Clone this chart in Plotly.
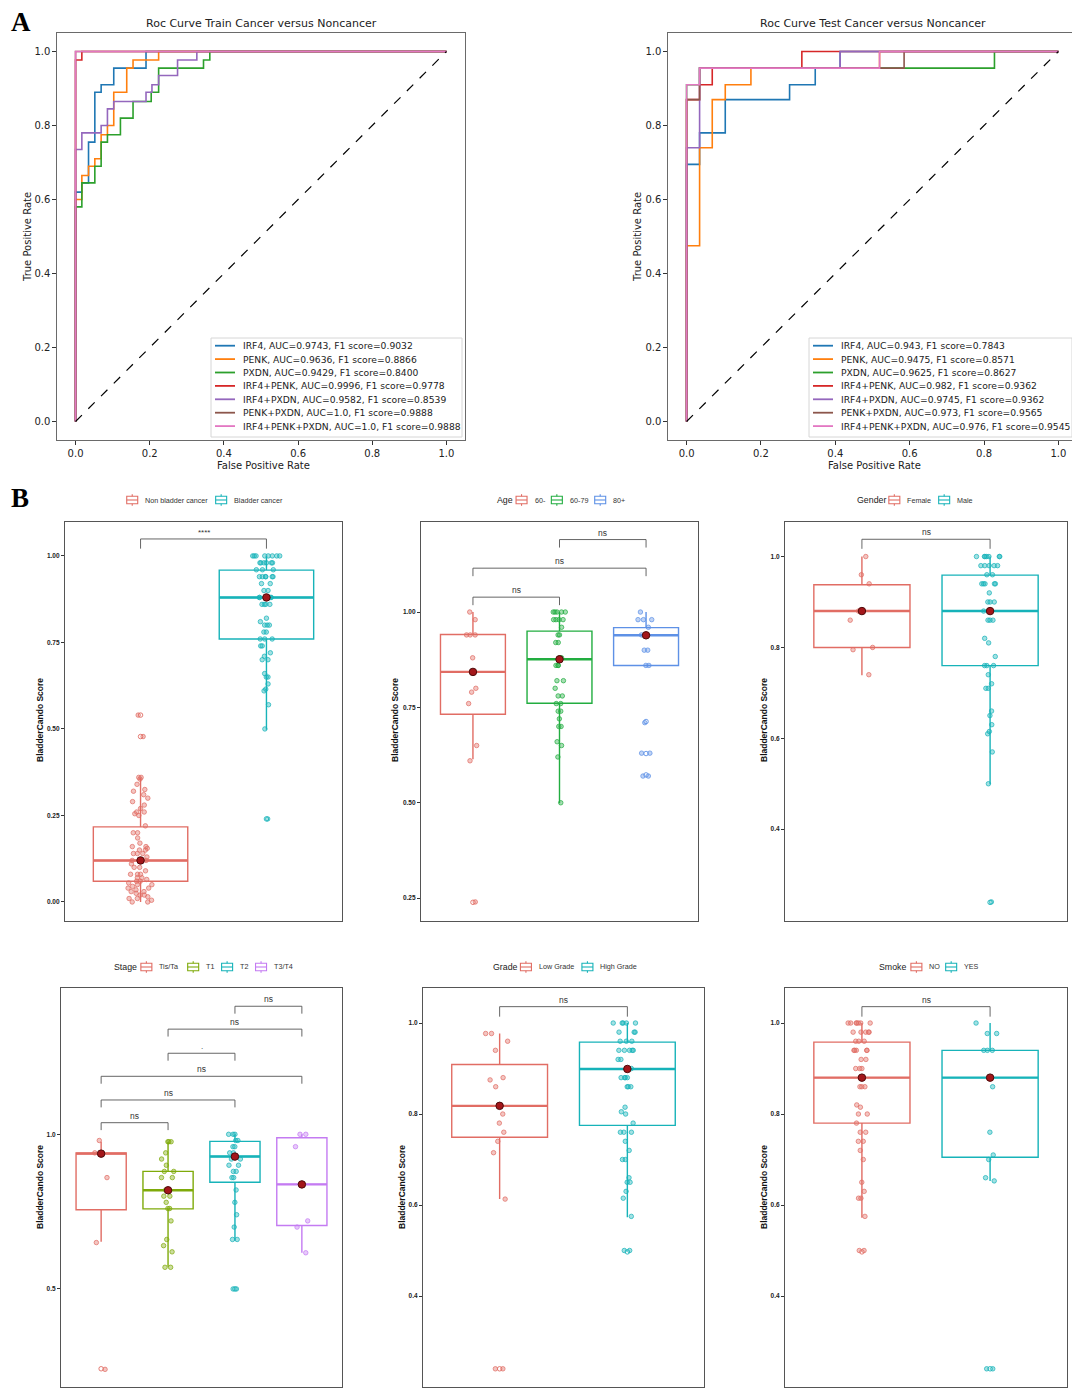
import plotly.graph_objects as go

# page is drawn with an 8 px body margin, so work in reference pixels and shift
OFF = 8
W, H = 1080 - OFF, 1390 - OFF

# ---------------- Panel A: ROC curves (step points) ----------------
roc_names = ["IRF4", "PENK", "PXDN", "IRF4+PENK", "IRF4+PXDN", "PENK+PXDN", "IRF4+PENK+PXDN"]
roc_colors = ["#1f77b4", "#ff7f0e", "#2ca02c", "#d62728", "#9467bd", "#8c564b", "#e377c2"]

train_auc = ["0.9743", "0.9636", "0.9429", "0.9996", "0.9582", "1.0", "1.0"]
train_f1 = ["0.9032", "0.8866", "0.8400", "0.9778", "0.8539", "0.9888", "0.9888"]
train_fpr = [
    [0, 0, 0.017, 0.035, 0.052, 0.069, 0.103, 0.19, 1.0],
    [0, 0, 0.017, 0.035, 0.052, 0.069, 0.086, 0.103, 0.138, 0.155, 0.224, 1.0],
    [0, 0, 0.017, 0.052, 0.069, 0.086, 0.121, 0.155, 0.204, 0.224, 0.345, 0.362, 1.0],
    [0, 0, 0.017, 1.0],
    [0, 0, 0.017, 0.069, 0.086, 0.103, 0.19, 0.206, 0.224, 0.275, 0.327, 1.0],
    [0, 0, 1.0],
    [0, 0, 1.0],
]
train_tpr = [
    [0, 0.62, 0.645, 0.755, 0.89, 0.91, 0.955, 1.0, 1.0],
    [0, 0.6, 0.665, 0.69, 0.71, 0.775, 0.80, 0.89, 0.955, 0.977, 1.0, 1.0],
    [0, 0.58, 0.645, 0.69, 0.755, 0.775, 0.82, 0.865, 0.89, 0.955, 0.977, 1.0, 1.0],
    [0, 0.977, 1.0, 1.0],
    [0, 0.735, 0.78, 0.80, 0.845, 0.865, 0.89, 0.91, 0.935, 0.977, 1.0, 1.0],
    [0, 1.0, 1.0],
    [0, 1.0, 1.0],
]

test_auc = ["0.943", "0.9475", "0.9625", "0.982", "0.9745", "0.973", "0.976"]
test_f1 = ["0.7843", "0.8571", "0.8627", "0.9362", "0.9362", "0.9565", "0.9545"]
test_fpr = [
    [0, 0, 0.035, 0.104, 0.277, 0.346, 0.413, 1.0],
    [0, 0, 0.035, 0.069, 0.104, 0.173, 0.519, 1.0],
    [0, 0, 0.035, 0.828, 1.0],
    [0, 0, 0.035, 0.069, 0.31, 1.0],
    [0, 0, 0.035, 0.413, 1.0],
    [0, 0, 0.035, 0.585, 1.0],
    [0, 0, 0.035, 0.519, 1.0],
]
test_tpr = [
    [0, 0.695, 0.78, 0.87, 0.91, 0.955, 1.0, 1.0],
    [0, 0.475, 0.74, 0.87, 0.91, 0.955, 1.0, 1.0],
    [0, 0.91, 0.955, 1.0, 1.0],
    [0, 0.87, 0.91, 0.955, 1.0, 1.0],
    [0, 0.74, 0.955, 1.0, 1.0],
    [0, 0.87, 0.955, 1.0, 1.0],
    [0, 0.91, 0.955, 1.0, 1.0],
]
chance_x = [0, 1]
chance_y = [0, 1]
roc_ticks = [0, 0.2, 0.4, 0.6, 0.8, 1.0]

# ---------------- Panel B: box plots ----------------
RED, TEAL = "#E16D64", "#17B3B9"

b1_groups = ["Non bladder cancer", "Bladder cancer"]
b1_q1 = [0.06, 0.76]
b1_med = [0.12, 0.88]
b1_q3 = [0.217, 0.959]
b1_lo = [0.0, 0.498]
b1_hi = [0.358, 1.0]
b1_out = [[0.54, 0.478], [0.24]]
b1_pts = [
    [0.54, 0.478, 0.36, 0.36, 0.355, 0.34, 0.325, 0.32, 0.31, 0.30, 0.29, 0.28, 0.27, 0.26, 0.26,
     0.255, 0.25, 0.22, 0.20, 0.20, 0.185, 0.17, 0.16, 0.16, 0.155, 0.15, 0.15, 0.14, 0.14, 0.14,
     0.13, 0.12, 0.12, 0.11, 0.10, 0.10, 0.09, 0.08, 0.08, 0.08, 0.07, 0.07, 0.065, 0.06, 0.06,
     0.055, 0.05, 0.05, 0.045, 0.04, 0.04, 0.035, 0.03, 0.03, 0.025, 0.02, 0.02, 0.015, 0.01,
     0.01, 0.005, 0.0, 0.0],
    [1.0, 1.0, 1.0, 1.0, 1.0, 1.0, 1.0, 1.0, 0.98, 0.98, 0.98, 0.98, 0.98, 0.98, 0.96, 0.96, 0.96,
     0.94, 0.94, 0.94, 0.94, 0.94, 0.94, 0.92, 0.92, 0.90, 0.90, 0.88, 0.88, 0.88, 0.88, 0.86,
     0.86, 0.86, 0.86, 0.82, 0.81, 0.80, 0.80, 0.80, 0.78, 0.78, 0.76, 0.76, 0.76, 0.74, 0.74,
     0.72, 0.71, 0.70, 0.70, 0.66, 0.65, 0.65, 0.63, 0.615, 0.61, 0.57, 0.50, 0.24],
]
b1_sig = [(0, 1, 1.049, "****")]

b2_groups = ["60-", "60-79", "80+"]
b2_q1 = [0.732, 0.761, 0.86]
b2_med = [0.843, 0.876, 0.939]
b2_q3 = [0.941, 0.95, 0.959]
b2_lo = [0.614, 0.499, 0.86]
b2_hi = [1.0, 1.0, 1.0]
b2_out = [[0.239], [], [0.713, 0.629, 0.573]]
b2_pts = [
    [1.0, 0.98, 0.94, 0.94, 0.94, 0.88, 0.80, 0.79, 0.76, 0.65, 0.61, 0.24],
    [1.0, 1.0, 1.0, 1.0, 1.0, 0.98, 0.98, 0.98, 0.98, 0.96, 0.94, 0.94, 0.92, 0.92, 0.88, 0.88,
     0.88, 0.86, 0.86, 0.86, 0.82, 0.82, 0.80, 0.78, 0.78, 0.76, 0.76, 0.74, 0.74, 0.72, 0.70,
     0.70, 0.66, 0.65, 0.62, 0.50],
    [1.0, 0.98, 0.98, 0.98, 0.96, 0.94, 0.90, 0.90, 0.86, 0.86, 0.71, 0.63, 0.63, 0.57, 0.57],
]
b2_sig = [(0, 1, 1.039, "ns"), (0, 2, 1.115, "ns"), (1, 2, 1.19, "ns")]

b3_groups = ["Female", "Male"]
b3_q1 = [0.80, 0.76]
b3_med = [0.88, 0.88]
b3_q3 = [0.938, 0.959]
b3_lo = [0.739, 0.499]
b3_hi = [1.0, 1.0]
b3_out = [[], [0.239]]
b3_pts = [
    [1.0, 0.96, 0.94, 0.88, 0.86, 0.80, 0.795, 0.74],
    [1.0, 1.0, 1.0, 1.0, 1.0, 1.0, 1.0, 0.98, 0.98, 0.98, 0.98, 0.98, 0.96, 0.96, 0.94, 0.94,
     0.94, 0.94, 0.94, 0.92, 0.90, 0.90, 0.90, 0.88, 0.88, 0.88, 0.86, 0.86, 0.86, 0.82, 0.81,
     0.78, 0.76, 0.76, 0.76, 0.74, 0.72, 0.71, 0.71, 0.66, 0.65, 0.63, 0.615, 0.61, 0.57, 0.50,
     0.24],
]
b3_sig = [(0, 1, 1.038, "ns")]

b4_groups = ["Tis/Ta", "T1", "T2", "T3/T4"]
b4_q1 = [0.756, 0.759, 0.845, 0.705]
b4_med = [0.9375, 0.819, 0.928, 0.838]
b4_q3 = [0.94, 0.88, 0.977, 0.989]
b4_lo = [0.653, 0.572, 0.656, 0.617]
b4_hi = [0.976, 0.976, 1.0, 1.0]
b4_out = [[0.242], [], [0.5], []]
b4_pts = [
    [0.98, 0.94, 0.86, 0.65, 0.24],
    [0.976, 0.976, 0.976, 0.94, 0.92, 0.90, 0.88, 0.88, 0.86, 0.86, 0.82, 0.80, 0.80, 0.78,
     0.76, 0.76, 0.72, 0.66, 0.64, 0.62, 0.57, 0.57],
    [1.0, 1.0, 1.0, 0.98, 0.98, 0.96, 0.96, 0.94, 0.94, 0.92, 0.92, 0.90, 0.90, 0.88, 0.88,
     0.86, 0.86, 0.82, 0.78, 0.74, 0.70, 0.66, 0.66, 0.50, 0.50],
    [1.0, 1.0, 0.96, 0.72, 0.70, 0.617],
]
b4_sig = [(0, 1, 1.0375, "ns"), (0, 2, 1.111, "ns"), (0, 3, 1.1875, "ns"),
          (1, 2, 1.262, "."), (1, 3, 1.34, "ns"), (2, 3, 1.414, "ns")]

b5_groups = ["Low Grade", "High Grade"]
b5_q1 = [0.749, 0.775]
b5_med = [0.818, 0.899]
b5_q3 = [0.909, 0.958]
b5_lo = [0.613, 0.573]
b5_hi = [0.977, 1.0]
b5_out = [[0.24], [0.497]]
b5_pts = [
    [0.977, 0.977, 0.96, 0.94, 0.88, 0.875, 0.86, 0.80, 0.78, 0.76, 0.74, 0.715, 0.613, 0.24, 0.24],
    [1.0, 1.0, 1.0, 1.0, 1.0, 0.98, 0.98, 0.98, 0.96, 0.96, 0.96, 0.94, 0.94, 0.94, 0.94, 0.94,
     0.92, 0.92, 0.90, 0.90, 0.88, 0.88, 0.88, 0.88, 0.86, 0.86, 0.86, 0.815, 0.805, 0.80, 0.78,
     0.76, 0.76, 0.76, 0.74, 0.72, 0.70, 0.70, 0.66, 0.65, 0.65, 0.63, 0.615, 0.575, 0.50, 0.50],
]
b5_sig = [(0, 1, 1.036, "ns")]

b6_groups = ["NO", "YES"]
b6_q1 = [0.78, 0.705]
b6_med = [0.88, 0.88]
b6_q3 = [0.958, 0.94]
b6_lo = [0.572, 0.653]
b6_hi = [1.0, 1.0]
b6_out = [[0.497], [0.24]]
b6_pts = [
    [1.0, 1.0, 1.0, 1.0, 1.0, 1.0, 1.0, 0.98, 0.98, 0.98, 0.98, 0.98, 0.96, 0.96, 0.96, 0.94,
     0.94, 0.94, 0.94, 0.94, 0.92, 0.92, 0.90, 0.90, 0.90, 0.88, 0.88, 0.86, 0.86, 0.86, 0.82,
     0.815, 0.80, 0.80, 0.78, 0.76, 0.76, 0.74, 0.74, 0.72, 0.70, 0.65, 0.63, 0.615, 0.615,
     0.575, 0.50, 0.50],
    [1.0, 0.977, 0.977, 0.94, 0.94, 0.94, 0.86, 0.76, 0.71, 0.70, 0.66, 0.653, 0.24, 0.24],
]
b6_sig = [(0, 1, 1.036, "ns")]


def rgba(hexcol, a):
    h = hexcol.lstrip("#")
    r, g, b = int(h[0:2], 16), int(h[2:4], 16), int(h[4:6], 16)
    return f"rgba({r},{g},{b},{a})"


def px(x):
    return (x - OFF) / W


def py(y):
    return 1 - (y - OFF) / H


def xdom(l, r):
    return [px(l), px(r)]


def ydom(t, b):
    return [py(b), py(t)]


def text_w(s, size):
    # rough Arial-like advance widths
    w = 0
    for c in s:
        if c in "il.,:;'|!":
            w += 0.24
        elif c in "rtfj-/ ":
            w += 0.31
        elif c in "mwMW":
            w += 0.85
        elif c.isupper():
            w += 0.68
        else:
            w += 0.56
    return w * size


def label(x, y, text, size, family, color="#222", angle=0, xanchor="center", bold=False):
    font = dict(family=family, size=size, color=color)
    if bold:
        font["weight"] = "bold"
    return dict(x=px(x), y=py(y), xref="paper", yref="paper", text=text, showarrow=False,
                xanchor=xanchor, yanchor="middle", textangle=angle, font=font)


fig = go.Figure()
annotations = []
shapes = []
ROC_FONT = "DejaVu Sans"
B_FONT = "Liberation Sans"

# ---------------- ROC panels ----------------
roc_panels = [
    dict(ax="", fpr=train_fpr, tpr=train_tpr, auc=train_auc, f1=train_f1,
         title="Roc Curve Train Cancer versus Noncancer", xd=(57, 465), leg=(211, 462),
         ylab_x=28),
    dict(ax="2", fpr=test_fpr, tpr=test_tpr, auc=test_auc, f1=test_f1,
         title="Roc Curve Test Cancer versus Noncancer", xd=(668, 1077), leg=(809, 1072),
         ylab_x=638),
]
layout_axes = {}
for p in roc_panels:
    ax = p["ax"]
    labels = []
    for name, col, fx, ty, a, f in zip(roc_names, roc_colors, p["fpr"], p["tpr"], p["auc"], p["f1"]):
        lab = f"{name}, AUC={a}, F1 score={f}"
        labels.append(lab)
        fig.add_trace(go.Scatter(
            x=fx, y=ty, mode="lines", line=dict(color=col, width=1.6, shape="hv"),
            name=lab, showlegend=False, xaxis="x" + ax, yaxis="y" + ax,
        ))
    fig.add_trace(go.Scatter(
        x=chance_x, y=chance_y, mode="lines", line=dict(color="black", width=1.2, dash="dash"),
        showlegend=False, xaxis="x" + ax, yaxis="y" + ax,
    ))
    common = dict(showline=True, mirror=True, linecolor="#6a6a6a", linewidth=1.3,
                  showgrid=False, zeroline=False, ticks="outside", ticklen=3.5, tickcolor="#333",
                  tickvals=roc_ticks, tickformat=".1f",
                  tickfont=dict(family=ROC_FONT, size=10, color="#222"))
    layout_axes["xaxis" + ax] = dict(domain=xdom(*p["xd"]), range=[-0.05, 1.05],
                                     anchor="y" + ax, **common)
    layout_axes["yaxis" + ax] = dict(domain=ydom(33, 440), range=[-0.05, 1.05],
                                     anchor="x" + ax, **common)
    # matplotlib-style legend box (lower right)
    l, r = p["leg"]
    shapes.append(dict(type="rect", xref="paper", yref="paper", x0=px(l), x1=px(r),
                       y0=py(437), y1=py(338), line=dict(color="#d6d6d6", width=1),
                       fillcolor="rgba(255,255,255,0.85)", layer="above"))
    for j, (lab, col) in enumerate(zip(labels, roc_colors)):
        yc = 345.7 + j * 13.4
        shapes.append(dict(type="line", xref="paper", yref="paper", x0=px(l + 4), x1=px(l + 24),
                           y0=py(yc), y1=py(yc), line=dict(color=col, width=1.8), layer="above"))
        annotations.append(label(l + 30, yc, lab, 9.2, ROC_FONT, xanchor="left"))
    cx = (p["xd"][0] + p["xd"][1]) / 2
    annotations.append(label(cx, 23, p["title"], 11, ROC_FONT))
    annotations.append(label(cx + 2, 466, "False Positive Rate", 10, ROC_FONT))
    annotations.append(label(p["ylab_x"], 237, "True Positive Rate", 10, ROC_FONT, angle=-90))

# ---------------- Box panels ----------------
box_panels = [
    dict(k=3, title="", groups=b1_groups, colors=[RED, TEAL], q1=b1_q1, med=b1_med, q3=b1_q3,
         lo=b1_lo, hi=b1_hi, out=b1_out, pts=b1_pts, sig=b1_sig, drop=0.028,
         xd=(65, 342), yd=(522, 921), yr=[-0.055, 1.098], tv=[0, 0.25, 0.5, 0.75, 1.0], tf=".2f",
         leg=(204, 500), ylab=(40, 720)),
    dict(k=4, title="Age", groups=b2_groups, colors=[RED, "#22AD40", "#5E91E6"], q1=b2_q1,
         med=b2_med, q3=b2_q3, lo=b2_lo, hi=b2_hi, out=b2_out, pts=b2_pts, sig=b2_sig, drop=0.021,
         xd=(421, 698), yd=(522, 921), yr=[0.19, 1.236], tv=[0.25, 0.5, 0.75, 1.0], tf=".2f",
         leg=(559, 500), ylab=(395, 720)),
    dict(k=5, title="Gender", groups=b3_groups, colors=[RED, TEAL], q1=b3_q1, med=b3_med,
         q3=b3_q3, lo=b3_lo, hi=b3_hi, out=b3_out, pts=b3_pts, sig=b3_sig, drop=0.021,
         xd=(785, 1067), yd=(522, 921), yr=[0.198, 1.076], tv=[0.4, 0.6, 0.8, 1.0], tf=".1f",
         leg=(913, 500), ylab=(764, 720)),
    dict(k=6, title="Stage", groups=b4_groups, colors=[RED, "#7FAA0A", TEAL, "#C47BF2"],
         q1=b4_q1, med=b4_med, q3=b4_q3, lo=b4_lo, hi=b4_hi, out=b4_out, pts=b4_pts, sig=b4_sig,
         drop=0.024, xd=(61, 342), yd=(988, 1387), yr=[0.183, 1.473], tv=[0.5, 1.0], tf=".1f",
         leg=(202, 967), ylab=(40, 1187)),
    dict(k=7, title="Grade", groups=b5_groups, colors=[RED, TEAL], q1=b5_q1, med=b5_med,
         q3=b5_q3, lo=b5_lo, hi=b5_hi, out=b5_out, pts=b5_pts, sig=b5_sig, drop=0.022,
         xd=(423, 704), yd=(988, 1387), yr=[0.2, 1.077], tv=[0.4, 0.6, 0.8, 1.0], tf=".1f",
         leg=(563, 967), ylab=(402, 1187)),
    dict(k=8, title="Smoke", groups=b6_groups, colors=[RED, TEAL], q1=b6_q1, med=b6_med,
         q3=b6_q3, lo=b6_lo, hi=b6_hi, out=b6_out, pts=b6_pts, sig=b6_sig, drop=0.022,
         xd=(785, 1067), yd=(988, 1387), yr=[0.2, 1.077], tv=[0.4, 0.6, 0.8, 1.0], tf=".1f",
         leg=(927, 967), ylab=(764, 1187)),
]

LEG_TITLE, LEG_TXT, GLYPH = 8.8, 7.2, 12

for p in box_panels:
    k = p["k"]
    xa, ya = f"x{k}", f"y{k}"
    n = len(p["groups"])
    for i, g in enumerate(p["groups"]):
        col = p["colors"][i]
        # box outline from the summary statistics
        fig.add_trace(go.Box(
            x=[g], q1=[p["q1"][i]], median=[p["med"][i]], q3=[p["q3"][i]],
            lowerfence=[p["lo"][i]], upperfence=[p["hi"][i]], boxpoints=False,
            width=0.75, whiskerwidth=0, line=dict(color=col, width=1.4),
            fillcolor="rgba(255,255,255,0)", name=g, showlegend=False,
            xaxis=xa, yaxis=ya,
        ))
        # thicker median bar like ggplot
        shapes.append(dict(type="line", xref=xa, yref=ya, x0=i - 0.375, x1=i + 0.375,
                           y0=p["med"][i], y1=p["med"][i], line=dict(color=col, width=2.4),
                           layer="below"))
        # jittered sample points (box itself invisible)
        fig.add_trace(go.Box(
            x=[g] * len(p["pts"][i]), y=p["pts"][i], boxpoints="all", jitter=0.3, pointpos=0,
            width=0.75, line=dict(color="rgba(0,0,0,0)", width=0),
            fillcolor="rgba(0,0,0,0)", whiskerwidth=0,
            marker=dict(size=4.5, color=rgba(col, 0.4), line=dict(color=rgba(col, 0.9), width=0.8)),
            showlegend=False, hoverinfo="y", xaxis=xa, yaxis=ya,
        ))
        if p["out"][i]:
            fig.add_trace(go.Scatter(
                x=[g] * len(p["out"][i]), y=p["out"][i], mode="markers",
                marker=dict(symbol="circle-open", size=4.5, color=col, line=dict(width=0.9)),
                showlegend=False, xaxis=xa, yaxis=ya,
            ))
    # median dots
    fig.add_trace(go.Scatter(
        x=p["groups"], y=p["med"], mode="markers",
        marker=dict(size=7.5, color="#A3161A", line=dict(color="#4d0a0a", width=1)),
        showlegend=False, xaxis=xa, yaxis=ya,
    ))
    # significance brackets
    for a, b, yb, lab in p["sig"]:
        ga, gb = p["groups"][a], p["groups"][b]
        fig.add_trace(go.Scatter(
            x=[ga, ga, gb, gb], y=[yb - p["drop"], yb, yb, yb - p["drop"]], mode="lines",
            line=dict(color="#555", width=0.9), showlegend=False, hoverinfo="skip",
            xaxis=xa, yaxis=ya,
        ))
        annotations.append(dict(x=(a + b) / 2, y=yb, xref=xa, yref=ya, text=lab, showarrow=False,
                                xanchor="center", yanchor="bottom",
                                font=dict(family=B_FONT, size=8.5 if lab == "ns" else 8,
                                          color="#333")))
    layout_axes[f"xaxis{k}"] = dict(
        domain=xdom(*p["xd"]), anchor=ya, type="category", categoryorder="array",
        categoryarray=p["groups"], range=[-0.6, n - 0.4], showticklabels=False, ticks="",
        showline=True, mirror=True, linecolor="#555", linewidth=1.2, showgrid=False,
        zeroline=False,
    )
    layout_axes[f"yaxis{k}"] = dict(
        domain=ydom(*p["yd"]), anchor=xa, range=p["yr"], tickvals=p["tv"], tickformat=p["tf"],
        ticks="outside", ticklen=3, tickwidth=1, tickcolor="#333",
        tickfont=dict(family=B_FONT, size=6.5, color="#222", weight="bold"),
        showline=True, mirror=True, linecolor="#555", linewidth=1.2, showgrid=False,
        zeroline=False,
    )
    # ggplot-style horizontal legend above the panel
    parts = []
    if p["title"]:
        parts.append(("title", p["title"], text_w(p["title"], LEG_TITLE)))
    for i, g in enumerate(p["groups"]):
        parts.append(("key", i, GLYPH))
        parts.append(("label", g, text_w(g, LEG_TXT)))
    gaps = {"title": 5, "key": 5, "label": 8}
    total = sum(w for _, _, w in parts) + sum(gaps[t] for t, _, _ in parts[:-1])
    cx, cy = p["leg"]
    x = cx - total / 2
    for t, v, w in parts:
        if t == "title":
            annotations.append(label(x, cy, v, LEG_TITLE, B_FONT, xanchor="left"))
        elif t == "label":
            annotations.append(label(x, cy, v, LEG_TXT, B_FONT, color="#333", xanchor="left"))
        else:
            col = p["colors"][v]
            sl = dict(xref="paper", yref="paper", layer="above")
            shapes.append(dict(type="rect", x0=px(x + 0.5), x1=px(x + w - 0.5), y0=py(cy + 3.8),
                               y1=py(cy - 3.8), line=dict(color=col, width=1.1),
                               fillcolor="white", **sl))
            shapes.append(dict(type="line", x0=px(x + 0.5), x1=px(x + w - 0.5), y0=py(cy),
                               y1=py(cy), line=dict(color=col, width=1.1), **sl))
            shapes.append(dict(type="line", x0=px(x + w / 2), x1=px(x + w / 2), y0=py(cy - 3.8),
                               y1=py(cy - 5.8), line=dict(color=col, width=1.1), **sl))
            shapes.append(dict(type="line", x0=px(x + w / 2), x1=px(x + w / 2), y0=py(cy + 3.8),
                               y1=py(cy + 5.8), line=dict(color=col, width=1.1), **sl))
        x += w + gaps[t]
    annotations.append(label(p["ylab"][0], p["ylab"][1], "BladderCando Score", 8.5, B_FONT,
                             color="#111", angle=-90, bold=True))

# panel letters (kept inside the page)
for letter, ycen in [("A", 22), ("B", 498)]:
    annotations.append(label(9, ycen, letter, 27, "Liberation Serif", color="black",
                             xanchor="left", bold=True))

fig.update_layout(
    width=W, height=H, margin=dict(l=0, r=0, t=0, b=0, autoexpand=False),
    paper_bgcolor="white", plot_bgcolor="white", showlegend=False,
    boxmode="overlay", annotations=annotations, shapes=shapes,
    **layout_axes,
)

fig.write_html("out.html")
